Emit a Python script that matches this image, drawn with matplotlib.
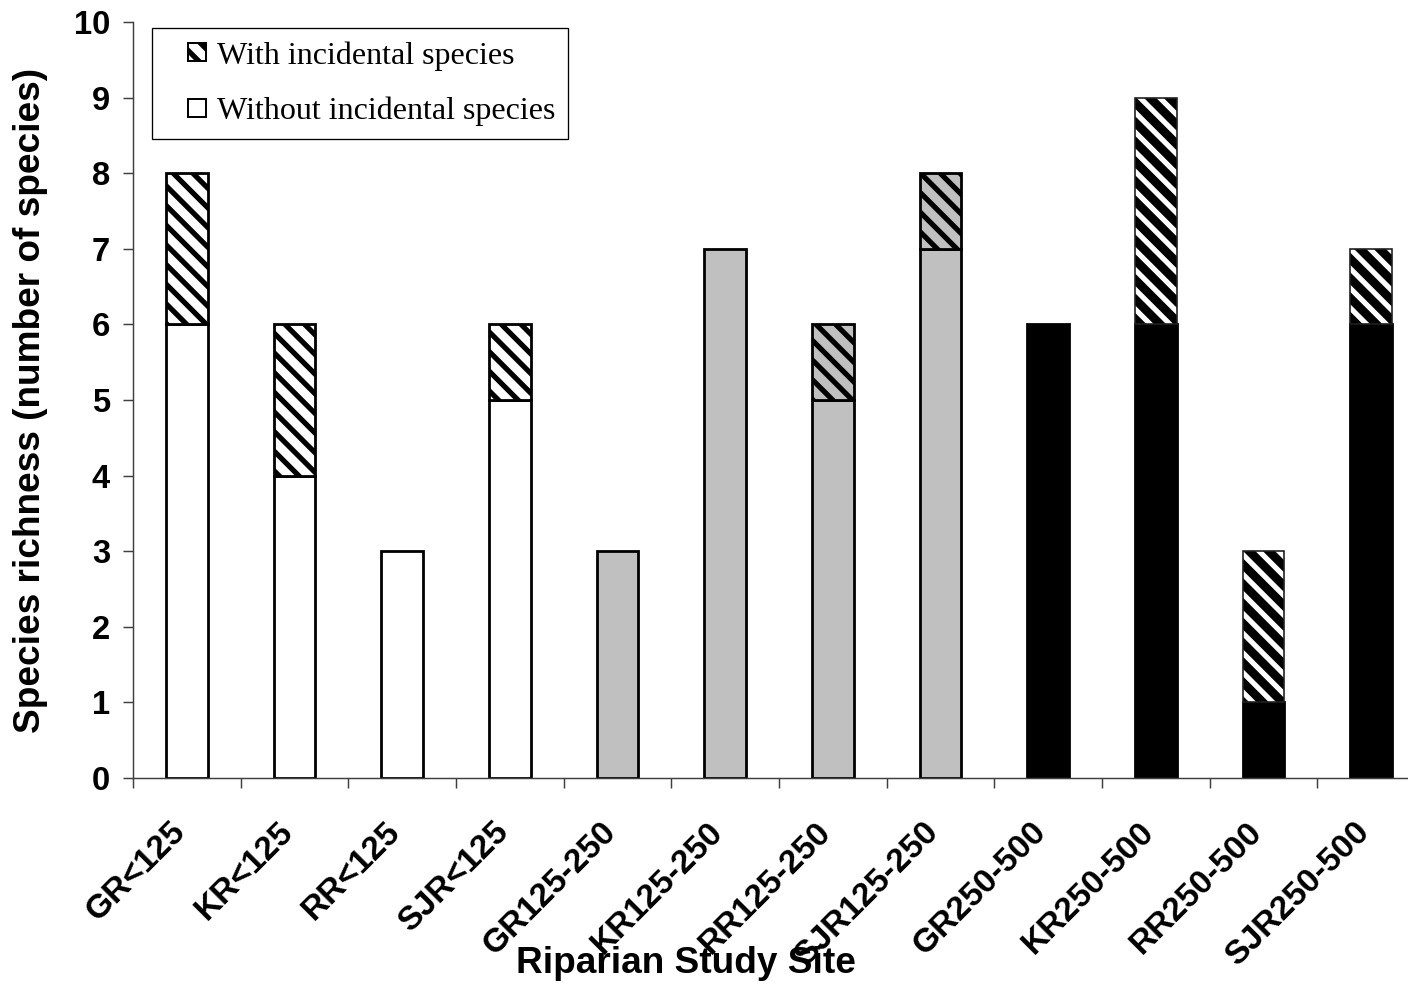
import numpy as np
import matplotlib
matplotlib.use("Agg")
import matplotlib.pyplot as plt
from matplotlib.patches import Patch, Rectangle
from matplotlib.legend_handler import HandlerPatch
from matplotlib.font_manager import FontProperties

sites = ["GR<125", "KR<125", "RR<125", "SJR<125",
         "GR125-250", "KR125-250", "RR125-250", "SJR125-250",
         "GR250-500", "KR250-500", "RR250-500", "SJR250-500"]
without_incidental = [6, 4, 3, 5, 3, 7, 5, 7, 6, 6, 1, 6]
with_incidental = [8, 6, 3, 6, 3, 7, 6, 8, 6, 9, 3, 7]
distance_class = ["<125"] * 4 + ["125-250"] * 4 + ["250-500"] * 4

class_colors = {"<125": "white", "125-250": "#c0c0c0", "250-500": "black"}
stripes = "\\\\"

DPI = 118
W, H = 1408, 988

plt.rcParams["font.family"] = ["Liberation Sans", "DejaVu Sans"]
plt.rcParams["font.weight"] = "bold"
plt.rcParams["hatch.linewidth"] = 3.2

fig = plt.figure(figsize=(W / DPI, H / DPI), dpi=DPI)
ax = fig.add_axes([133 / W, (H - 778) / H, 1292 / W, 756 / H])

x = np.arange(len(sites))
width = 0.39

for i in range(len(sites)):
    fc = class_colors[distance_class[i]]
    base = without_incidental[i]
    extra = with_incidental[i] - base
    ax.bar(x[i], base, width, color=fc, edgecolor="black", linewidth=1.7)
    if extra <= 0:
        continue
    if fc == "black":
        # white stripes on the black bars
        ax.bar(x[i], extra, width, bottom=base, color="black",
               edgecolor="white", hatch=stripes, linewidth=0)
        ax.bar(x[i], extra, width, bottom=base, fill=False,
               edgecolor="#202020", linewidth=1.0)
    else:
        ax.bar(x[i], extra, width, bottom=base, color=fc,
               edgecolor="black", hatch=stripes, linewidth=1.7)

ax.set_xlim(-0.5, 11.5)
ax.set_ylim(0, 10)
ax.set_yticks(range(0, 11))

# tick marks sit between sites, labels at the bar centres
ax.set_xticks(np.arange(-0.5, 11.6, 1))
ax.set_xticklabels([])
ax.set_xticks(x - 0.06, minor=True)
ax.set_xticklabels(sites, minor=True, rotation=45, ha="right", va="center",
                   rotation_mode="anchor", fontsize=20.5, fontweight="bold")

axis_gray = "#404040"
for side in ["top", "right"]:
    ax.spines[side].set_visible(False)
for side in ["left", "bottom"]:
    ax.spines[side].set_color(axis_gray)
    ax.spines[side].set_linewidth(0.9)

ax.tick_params(axis="x", which="major", direction="out", length=6,
               width=0.9, color=axis_gray)
ax.tick_params(axis="x", which="minor", length=0, pad=30)
ax.tick_params(axis="y", direction="out", length=6, width=0.9,
               color=axis_gray, labelsize=20, pad=8)
for lbl in ax.get_yticklabels():
    lbl.set_fontweight("bold")

fig.text(31 / W, 1 - 400 / H, "Species richness (number of species)",
         rotation=90, ha="center", va="center", fontsize=22.6,
         fontweight="bold")
fig.text(686 / W, 1 - 963 / H, "Riparian Study Site", ha="center",
         va="center", fontsize=22.6, fontweight="bold")


def square_key(legend, orig_handle, xdescent, ydescent, width, height, fontsize):
    # small square key pushed to the right side of the handle box
    s = 0.56 * fontsize
    return Rectangle((-xdescent + width - s, -ydescent + (height - s) / 2), s, s)


handles = [Patch(facecolor="white", edgecolor="black", hatch=stripes, linewidth=1.2),
           Patch(facecolor="white", edgecolor="black", linewidth=1.2)]
labels = ["With incidental species", "Without incidental species"]
leg = ax.legend(handles, labels, loc="upper left",
                bbox_to_anchor=(152 / W, 1 - 28 / H),
                bbox_transform=fig.transFigure,
                prop=FontProperties(family="Liberation Serif", size=19.5,
                                    weight="normal"),
                handler_map={Patch: HandlerPatch(patch_func=square_key)},
                frameon=True, fancybox=False, edgecolor="black",
                framealpha=1, borderaxespad=0, handlelength=1.28,
                handleheight=0.7, handletextpad=0.34, labelspacing=0.81,
                borderpad=0.41)
leg.get_frame().set_linewidth(0.8)

fig.savefig("out.png", dpi=DPI)
